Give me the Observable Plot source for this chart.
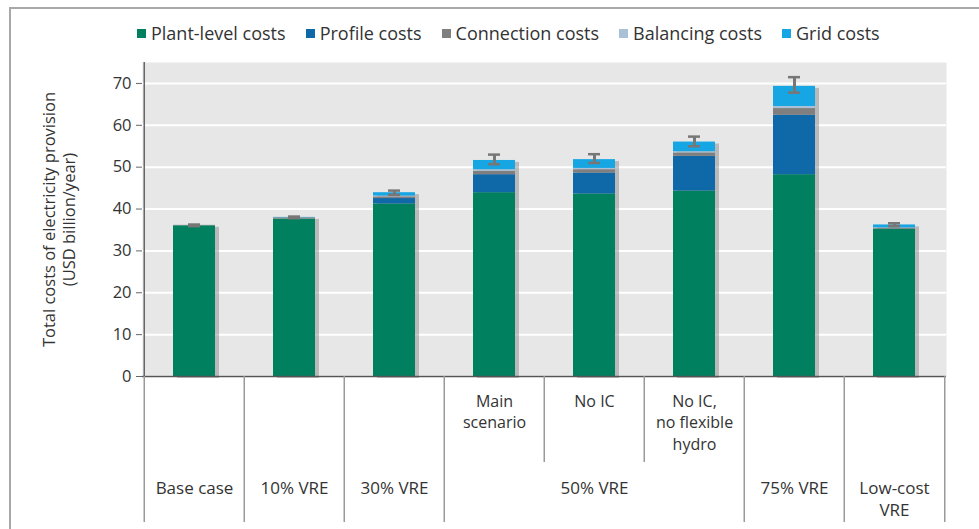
<!DOCTYPE html>
<html>
<head>
<meta charset="utf-8">
<script src="https://cdn.jsdelivr.net/npm/d3@7"></script>
<script src="https://cdn.jsdelivr.net/npm/@observablehq/plot@0.6"></script>
<style>
  html, body { margin: 0; padding: 0; background: #fff; }
  body { width: 979px; height: 529px; position: relative; overflow: hidden;
         font-family: "Open Sans", "Roboto", sans-serif; }
  #frame { position: absolute; left: 9px; top: 7px; width: 980px; height: 540px;
           border-left: 2px solid #a8a8a8; border-top: 2px solid #a8a8a8; }
  #legend { position: absolute; left: 137px; top: 21px; display: flex;
            font-size: 18px; color: #333; white-space: nowrap; line-height: 24px; }
  #legend .item { display: flex; align-items: center; gap: 5px; margin-right: 20px; }
  #legend .sw { width: 9px; height: 9px; display: inline-block; }
  #chart { position: absolute; left: 0; top: 55px; }
</style>
</head>
<body>
<div id="frame"></div>
<div id="legend"></div>
<div id="chart"></div>
<script>
// ---- data ----
const categories = ["Base case", "10% VRE", "30% VRE", "Main scenario", "No IC", "No IC, no flexible hydro", "75% VRE", "Low-cost VRE"];
const subLabels  = ["", "", "", "Main\nscenario", "No IC", "No IC,\nno flexible\nhydro", "", ""];
const groupLabels = ["Base case", "10% VRE", "30% VRE", "", "50% VRE", "", "75% VRE", "Low-cost\nVRE"];
const seriesNames = ["Plant-level costs", "Profile costs", "Connection costs", "Balancing costs", "Grid costs"];
const seriesColors = ["#00805f", "#0f68a8", "#7f7f7f", "#a9c0d6", "#16a6e4"];
const plantLevel = [36.0, 37.6, 41.2, 43.9, 43.6, 44.3, 48.2, 35.2];
const profile    = [0.0,  0.0,  1.3,  4.3,  5.0,  8.3,  14.2, 0.0];
const connection = [0.1,  0.3,  0.4,  0.8,  0.8,  0.8,  1.6,  0.2];
const balancing  = [0.0,  0.0,  0.2,  0.4,  0.3,  0.3,  0.5,  0.1];
const grid       = [0.0,  0.1,  0.8,  2.2,  2.1,  2.3,  4.8,  0.7];
const errLow     = [35.9, 37.8, 43.4, 50.7, 51.0, 55.0, 67.8, 35.9];
const errHigh    = [36.3, 38.2, 44.4, 53.0, 53.1, 57.3, 71.5, 36.6];
const yTicks = [0, 10, 20, 30, 40, 50, 60, 70];
const yLabel = "Total costs of electricity provision\n(USD billion/year)";

// ---- derived tables ----
const seriesValues = [plantLevel, profile, connection, balancing, grid];
const rows = [];
categories.forEach((c, i) => seriesNames.forEach((s, j) => rows.push({cat: c, series: s, value: seriesValues[j][i]})));
const totals = categories.map((c, i) => ({cat: c, total: seriesValues.reduce((a, v) => a + v[i], 0)}));
const errs = categories.map((c, i) => ({cat: c, lo: errLow[i], hi: errHigh[i]}));
const labels = categories.map((c, i) => ({cat: c, sub: subLabels[i], group: groupLabels[i], idx: i}));

// legend
const legend = document.getElementById("legend");
seriesNames.forEach((s, j) => {
  const it = document.createElement("span"); it.className = "item";
  const sw = document.createElement("span"); sw.className = "sw"; sw.style.background = seriesColors[j];
  const t = document.createElement("span"); t.textContent = s;
  it.appendChild(sw); it.appendChild(t); legend.appendChild(it);
});

const W = 979, H = 474, mL = 142, mR = 33, mT = 7, mB = 153;
const plotH = H - mT - mB;
const step = (W - mL - mR) / categories.length;
const font = "Open Sans, Roboto, sans-serif";

const chart = Plot.plot({
  width: W, height: H,
  marginLeft: mL, marginRight: mR, marginTop: mT, marginBottom: mB,
  style: {fontFamily: font, fontSize: "16px", color: "#333", background: "transparent"},
  x: {domain: categories, paddingInner: 0.58, paddingOuter: 0.29, axis: null},
  y: {domain: [0, 75], ticks: yTicks, label: null},
  color: {domain: seriesNames, range: seriesColors},
  marks: [
    Plot.frame({fill: "#e7e7e7", stroke: null}),
    Plot.gridY(yTicks, {stroke: "#fff", strokeOpacity: 1, strokeWidth: 2}),
    Plot.axisY({ticks: yTicks, tickSize: 6, tickPadding: 5, stroke: "#666", fontSize: 16.5, label: null}),
    // shadow
    Plot.barY(totals, {x: "cat", y: "total", fill: "#8c8c8c", fillOpacity: 0.5, dx: 4, dy: 2}),
    Plot.barY(rows, {x: "cat", y: "value", fill: "series"}),
    // error bars
    Plot.ruleX(errs, {x: "cat", y1: "lo", y2: "hi", stroke: "#777", strokeWidth: 3}),
    Plot.tickY(errs, {x: "cat", y: "hi", stroke: "#777", strokeWidth: 2.5, insetLeft: 15, insetRight: 15}),
    Plot.tickY(errs, {x: "cat", y: "lo", stroke: "#777", strokeWidth: 2.5, insetLeft: 15, insetRight: 15}),
    // baseline
    Plot.ruleY([0], {stroke: "#555", strokeWidth: 1.5}),
    // table dividers
    Plot.ruleX(labels.filter(d => d.sub === "" || d.idx === 3), {x: "cat", dx: -step / 2, stroke: "#9a9a9a", strokeWidth: 1.5, insetTop: plotH, insetBottom: -146}),
    Plot.ruleX(labels.filter(d => d.idx === 4 || d.idx === 5), {x: "cat", dx: -step / 2, stroke: "#9a9a9a", strokeWidth: 1.5, insetTop: plotH, insetBottom: -86}),
    Plot.ruleX(labels.filter(d => d.idx === categories.length - 1), {x: "cat", dx: step / 2, stroke: "#9a9a9a", strokeWidth: 1.5, insetTop: plotH, insetBottom: -146}),
    Plot.ruleX(labels.filter(d => d.idx === 0), {x: "cat", dx: -step / 2, stroke: "#666", strokeWidth: 1.5}),
    // table labels
    Plot.text(labels, {x: "cat", text: "sub", frameAnchor: "bottom", lineAnchor: "top", dy: 15, lineHeight: 1.34, fontSize: 16, fill: "#333"}),
    Plot.text(labels, {x: "cat", text: "group", frameAnchor: "bottom", lineAnchor: "top", dy: 102, lineHeight: 1.3, fontSize: 17, fill: "#333"}),
    // y label
    Plot.text([yLabel], {text: d => d, frameAnchor: "left", textAnchor: "middle", rotate: -90, dx: -84, lineHeight: 1.22, fontSize: 16.5, fill: "#333"})
  ]
});
document.getElementById("chart").appendChild(chart);
</script>
</body>
</html>
